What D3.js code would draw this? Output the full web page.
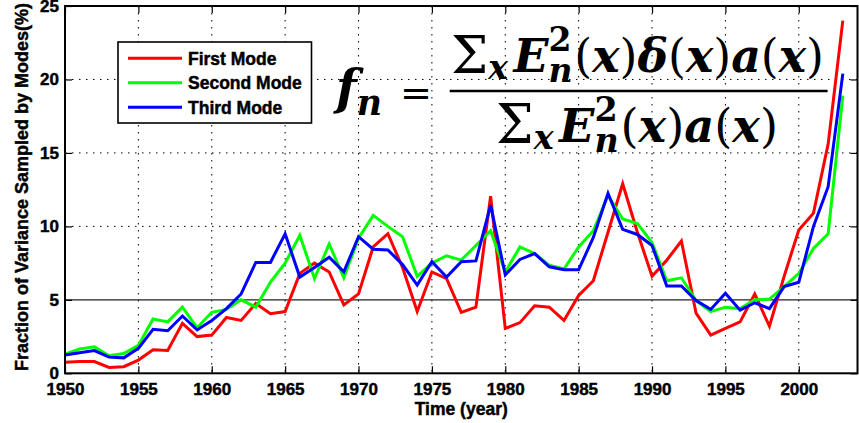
<!DOCTYPE html>
<html>
<head>
<meta charset="utf-8">
<script src="https://cdn.jsdelivr.net/npm/d3@7/dist/d3.min.js"></script>
<style>
  body { margin: 0; background: #fff; }
  svg { display: block; }
  text { font-family: "Liberation Sans", Arial, sans-serif; font-weight: bold; fill: #000; }
  text.heavy { stroke: #000; stroke-width: 0.45px; }
</style>
</head>
<body>
<div id="chart"></div>
<script>
// data, one value per year 1950..2003
var years = d3.range(1950, 2004);
var firstMode = [
  0.75, 0.8, 0.8, 0.4, 0.45, 0.9, 1.6, 1.55, 3.4, 2.5,
  2.6, 3.8, 3.6, 4.75, 4.05, 4.2, 6.8, 7.5, 6.9, 4.65,
  5.4, 8.6, 9.5, 7.2, 4.2, 6.9, 6.45, 4.15, 4.5, 12.05,
  3.05, 3.45, 4.6, 4.5, 3.6, 5.3, 6.3, 9.6, 12.9, 9.6,
  6.6, 7.7, 9.0, 4.1, 2.6, 3.05, 3.5, 5.4, 3.2, 6.6,
  9.75, 10.9, 15.6, 24.0];
var secondMode = [
  1.3, 1.65, 1.8, 1.2, 1.35, 1.9, 3.7, 3.5, 4.5, 3.1,
  4.15, 4.35, 5.0, 4.5, 6.2, 7.5, 9.4, 6.45, 8.8, 6.5,
  9.2, 10.75, 10.0, 9.3, 6.6, 7.5, 8.0, 7.7, 8.7, 9.7,
  6.9, 8.6, 8.15, 7.35, 7.1, 8.6, 9.7, 12.1, 10.5, 10.2,
  8.9, 6.3, 6.5, 4.95, 4.2, 4.5, 4.4, 5.0, 5.05, 5.9,
  6.8, 8.5, 9.5, 18.9];
var thirdMode = [
  1.25, 1.4, 1.55, 1.1, 1.05, 1.7, 3.0, 2.9, 3.9, 2.95,
  3.6, 4.4, 5.4, 7.55, 7.55, 9.5, 6.55, 7.2, 7.9, 6.9,
  9.3, 8.45, 8.4, 7.4, 6.0, 7.6, 6.55, 7.6, 7.65, 11.45,
  6.7, 7.75, 8.15, 7.25, 7.05, 7.05, 9.25, 12.25, 9.8, 9.45,
  8.7, 5.95, 5.95, 4.95, 4.35, 5.45, 4.3, 4.8, 4.4, 5.9,
  6.2, 10.0, 12.7, 20.4];
var seriesNames = ["First Mode", "Second Mode", "Third Mode"];
var seriesColors = ["#ff0000", "#00ff00", "#0000ff"];
var xTicks = [1950, 1955, 1960, 1965, 1970, 1975, 1980, 1985, 1990, 1995, 2000];
var yTicks = [0, 5, 10, 15, 20, 25];

var width = 859, height = 423;
var mLeft = 65, mRight = 857.5, mTop = 6, mBottom = 373.3;

var svg = d3.select("#chart").append("svg")
  .attr("width", width)
  .attr("height", height);

var x = d3.scaleLinear().domain([1950, 2004]).range([mLeft, mRight]);
var y = d3.scaleLinear().domain([0, 25]).range([mBottom, mTop]);

//dotted grid
var grid = svg.append("g")
  .attr("stroke", "#000")
  .attr("stroke-width", 1)
  .attr("stroke-dasharray", "1.5,5.5");
grid.selectAll("line.gx")
  .data(xTicks.slice(1))
  .enter().append("line")
  .attr("x1", function(d) { return x(d); })
  .attr("x2", function(d) { return x(d); })
  .attr("y1", mTop)
  .attr("y2", mBottom);
grid.selectAll("line.gy")
  .data(yTicks.slice(2, 5))
  .enter().append("line")
  .attr("x1", mLeft)
  .attr("x2", mRight)
  .attr("y1", function(d) { return y(d); })
  .attr("y2", function(d) { return y(d); });

// solid reference line at 5%
svg.append("line")
  .attr("x1", mLeft).attr("x2", mRight)
  .attr("y1", y(yTicks[1])).attr("y2", y(yTicks[1]))
  .attr("stroke", "#222")
  .attr("stroke-width", 1.4);

var line = d3.line()
  .x(function(d, i) { return x(years[i]); })
  .y(function(d) { return y(d); });

[firstMode, secondMode, thirdMode].forEach(function(s, i) {
  svg.append("path")
    .datum(s)
    .attr("d", line)
    .attr("fill", "none")
    .attr("stroke", seriesColors[i])
    .attr("stroke-width", 3);
});

// axes, matlab style ticks pointing in on all four sides
var styleAxis = function(g, labels) {
  g.select(".domain").remove();
  g.selectAll(".tick line").attr("stroke", "#000").attr("stroke-width", 1.2);
  g.selectAll(".tick text")
    .attr("class", "heavy")
    .style("font-family", '"Liberation Sans", Arial, sans-serif')
    .style("font-weight", "bold")
    .style("font-size", "17px")
    .attr("fill", "#000");
  if (!labels) g.selectAll(".tick text").remove();
};

svg.append("g")
  .attr("transform", "translate(0," + mBottom + ")")
  .call(d3.axisBottom(x).tickValues(xTicks).tickFormat(d3.format("d")).tickSize(-7).tickPadding(10))
  .call(styleAxis, true);
svg.append("g")
  .attr("transform", "translate(0," + mTop + ")")
  .call(d3.axisTop(x).tickValues(xTicks).tickSize(-7))
  .call(styleAxis, false);
svg.append("g")
  .attr("transform", "translate(" + mLeft + ",0)")
  .call(d3.axisLeft(y).tickValues(yTicks).tickSize(-7).tickPadding(6))
  .call(styleAxis, true);
svg.append("g")
  .attr("transform", "translate(" + mRight + ",0)")
  .call(d3.axisRight(y).tickValues(yTicks).tickSize(-7))
  .call(styleAxis, false);

svg.append("rect")
  .attr("x", mLeft).attr("y", mTop)
  .attr("width", mRight - mLeft).attr("height", mBottom - mTop)
  .attr("fill", "none")
  .attr("stroke", "#000")
  .attr("stroke-width", 2);

svg.append("text")
  .attr("class", "heavy")
  .attr("x", (mLeft + mRight) / 2)
  .attr("y", 415)
  .attr("text-anchor", "middle")
  .style("font-size", "17.5px")
  .text("Time (year)");

svg.append("text")
  .attr("class", "heavy")
  .attr("transform", "translate(28,187) rotate(-90)")
  .attr("text-anchor", "middle")
  .style("font-size", "18px")
  .text("Fraction of Variance Sampled by Modes(%)");

// legend
var legend = svg.append("g");
legend.append("rect")
  .attr("x", 118).attr("y", 42)
  .attr("width", 193.5).attr("height", 81)
  .attr("fill", "#fff")
  .attr("stroke", "#000")
  .attr("stroke-width", 1.6);
var item = legend.selectAll("g.item")
  .data(seriesNames)
  .enter().append("g")
  .attr("transform", function(d, i) { return "translate(0," + (58.3 + i * 24.5) + ")"; });
item.append("line")
  .attr("x1", 128).attr("x2", 182)
  .attr("stroke", function(d, i) { return seriesColors[i]; })
  .attr("stroke-width", 3);
item.append("text")
  .attr("class", "heavy")
  .attr("x", 188)
  .attr("dy", "0.36em")
  .style("font-size", "17.5px")
  .text(function(d) { return d; });

//formula f_n = sum E^2 delta a / sum E^2 a
var mathFont = '"DejaVu Serif", "Liberation Serif", serif';

var put = function(g, t, px, py, size, st) {
  return g.append("text")
    .attr("x", px).attr("y", py)
    .style("font-family", mathFont)
    .style("font-size", size + "px")
    .style("font-weight", st.indexOf("b") >= 0 ? "bold" : "normal")
    .style("font-style", st.indexOf("i") >= 0 ? "italic" : "normal")
    .text(t);
};

var mathRow = function(g, items, fsz) {
  var cx = 0;
  items.forEach(function(it) {
    var t;
    if (it.sup || it.sub) {
      var w = 0;
      if (it.sup) { t = put(g, it.sup, cx, -0.45 * fsz, 0.72 * fsz, "b"); w = Math.max(w, t.node().getComputedTextLength()); }
      if (it.sub) { t = put(g, it.sub, cx, 0.22 * fsz, 0.72 * fsz, "bi"); w = Math.max(w, t.node().getComputedTextLength()); }
      cx += w + 0.04 * fsz;
    } else {
      t = put(g, it.t, cx, (it.dy || 0) * fsz, (it.size || 1) * fsz, it.st || "n");
      cx += t.node().getComputedTextLength() + (it.gap || 0) * fsz;
    }
  });
  return cx;
};

var placeRow = function(items, x0, baseline, targetW) {
  var g = svg.append("g");
  var w = mathRow(g, items, 40);
  var s = targetW / w;
  g.attr("transform", "translate(" + x0 + "," + baseline + ") scale(" + s + ")");
};

var sumE = [
  {t: "\u03A3", size: 1.15, dy: 0.02},
  {t: "x", st: "bi", size: 0.72, dy: 0.16, gap: 0.12},
  {t: "E", st: "bi"},
  {sup: "2", sub: "n"}
];
var ofx = [{t: "("}, {t: "x", st: "bi"}, {t: ")"}];

var numerator = sumE.concat(ofx, [{t: "\u03B4", st: "bi"}], ofx, [{t: "a", st: "bi"}], ofx);
var denominator = sumE.concat(ofx, [{t: "a", st: "bi"}], ofx);

placeRow([{t: "f", st: "bi"}, {sub: "n"}], 336, 104, 48);
placeRow([{t: "="}], 400, 106, 32);
placeRow(numerator, 451, 72, 373);
placeRow(denominator, 496, 142, 282);

svg.append("line")
  .attr("x1", 449.7).attr("x2", 827.6)
  .attr("y1", 91).attr("y2", 91)
  .attr("stroke", "#000")
  .attr("stroke-width", 2.6);
</script>
</body>
</html>
